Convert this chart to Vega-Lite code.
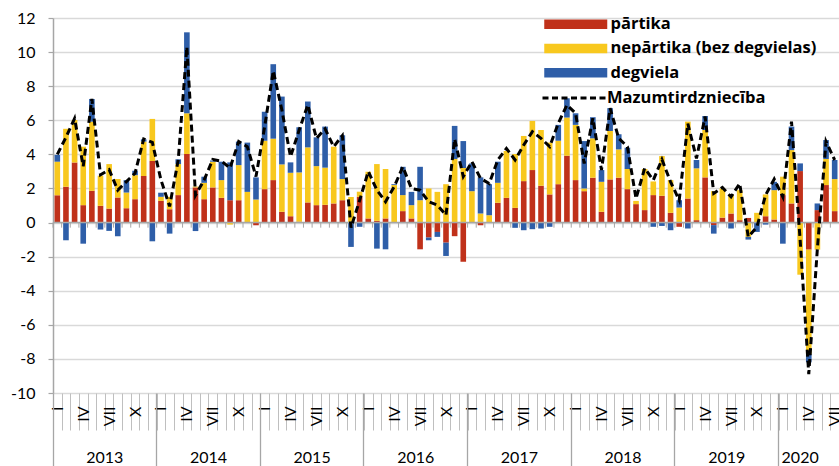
{
  "$schema": "https://vega.github.io/schema/vega-lite/v6.json",
  "width": 786,
  "height": 375,
  "autosize": "none",
  "padding": {"left": 53, "top": 18, "right": 0, "bottom": 73},
  "background": "white",
  "config": {
    "view": {"stroke": null}, "font": "Lato",
    "axisY": {
      "labelOverlap": false, "title": null, "values": [-10, -8, -6, -4, -2, 0, 2, 4, 6, 8, 10, 12],
      "grid": true, "gridColor": "#d9d9d9", "gridWidth": 1.5,
      "domainColor": "#a6a6a6", "domainWidth": 1.5, "tickColor": "#a6a6a6", "tickSize": 5, "tickWidth": 1.2,
      "labelPadding": 13, "labelFont": "Lato", "labelFontSize": 16, "labelColor": "#000000",
      "labelExpr": "'' + datum.value"
    }
  },
  "datasets": {
    "rows": [
      {"m":"2013-01","p":1.6,"n":1.97,"d":0.4,"t":4.0},
      {"m":"2013-02","p":2.1,"n":3.4,"d":-1.04,"t":5.0},
      {"m":"2013-03","p":3.53,"n":2.49,"d":0,"t":6.1},
      {"m":"2013-04","p":1.02,"n":3.43,"d":-1.24,"t":3.3},
      {"m":"2013-05","p":1.86,"n":4.06,"d":1.33,"t":7.25},
      {"m":"2013-06","p":0.98,"n":1.77,"d":-0.41,"t":2.8},
      {"m":"2013-07","p":0.82,"n":2.61,"d":-0.49,"t":3.1},
      {"m":"2013-08","p":1.47,"n":1.08,"d":-0.8,"t":1.9},
      {"m":"2013-09","p":0.84,"n":0.92,"d":0.73,"t":2.4},
      {"m":"2013-10","p":1.37,"n":1.41,"d":0.26,"t":2.9},
      {"m":"2013-11","p":2.73,"n":2.02,"d":0.13,"t":4.9},
      {"m":"2013-12","p":3.61,"n":2.47,"d":-1.1,"t":4.7},
      {"m":"2014-01","p":1.27,"n":0.24,"d":0.24,"t":2.5},
      {"m":"2014-02","p":0.78,"n":0.73,"d":-0.65,"t":0.95},
      {"m":"2014-03","p":1.61,"n":1.82,"d":0.28,"t":3.67},
      {"m":"2014-04","p":4.02,"n":2.39,"d":4.75,"t":10.3},
      {"m":"2014-05","p":2.06,"n":0.05,"d":-0.5,"t":1.6},
      {"m":"2014-06","p":1.37,"n":0.96,"d":0.36,"t":2.5},
      {"m":"2014-07","p":2.06,"n":1.51,"d":0.07,"t":3.7},
      {"m":"2014-08","p":1.45,"n":1.04,"d":1.08,"t":3.6},
      {"m":"2014-09","p":1.31,"n":-0.12,"d":2.22,"t":3.2},
      {"m":"2014-10","p":1.31,"n":2.06,"d":1.38,"t":4.75},
      {"m":"2014-11","p":0,"n":1.8,"d":2.89,"t":4.45},
      {"m":"2014-12","p":-0.16,"n":1.35,"d":1.3,"t":2.7},
      {"m":"2015-01","p":1.96,"n":2.84,"d":1.7,"t":5.6},
      {"m":"2015-02","p":2.49,"n":2.43,"d":4.37,"t":8.9},
      {"m":"2015-03","p":0.63,"n":2.78,"d":3.98,"t":6.6},
      {"m":"2015-04","p":0.37,"n":2.55,"d":0.61,"t":3.86},
      {"m":"2015-05","p":0.05,"n":2.89,"d":2.65,"t":5.43},
      {"m":"2015-06","p":1.18,"n":3.23,"d":2.69,"t":6.9},
      {"m":"2015-07","p":1.02,"n":2.29,"d":1.69,"t":4.94},
      {"m":"2015-08","p":1.04,"n":2.18,"d":2.41,"t":5.5},
      {"m":"2015-09","p":1.12,"n":3.33,"d":0,"t":4.45},
      {"m":"2015-10","p":1.31,"n":1.24,"d":2.57,"t":5.1},
      {"m":"2015-11","p":0,"n":1.5,"d":-1.43,"t":-0.3},
      {"m":"2015-12","p":1.51,"n":0.3,"d":-0.25,"t":1.3},
      {"m":"2016-01","p":0.24,"n":2.74,"d":0,"t":3.0},
      {"m":"2016-02","p":0.1,"n":3.33,"d":-1.53,"t":1.9},
      {"m":"2016-03","p":0.24,"n":2.9,"d":-1.57,"t":1.22},
      {"m":"2016-04","p":0,"n":2.2,"d":0.05,"t":2.1},
      {"m":"2016-05","p":0.67,"n":0.94,"d":1.66,"t":3.27},
      {"m":"2016-06","p":0.24,"n":0.78,"d":0.78,"t":2.0},
      {"m":"2016-07","p":-1.57,"n":1.31,"d":1.96,"t":1.9},
      {"m":"2016-08","p":-0.88,"n":2.0,"d":-0.16,"t":1.22},
      {"m":"2016-09","p":-0.55,"n":1.8,"d":-0.29,"t":1.02},
      {"m":"2016-10","p":-1.18,"n":2.25,"d":-0.78,"t":0.43},
      {"m":"2016-11","p":-0.8,"n":3.73,"d":1.94,"t":4.9},
      {"m":"2016-12","p":-2.3,"n":3.2,"d":1.58,"t":2.7},
      {"m":"2017-01","p":0,"n":1.84,"d":1.63,"t":3.57},
      {"m":"2017-02","p":-0.16,"n":0.53,"d":2.12,"t":2.59},
      {"m":"2017-03","p":0,"n":0.43,"d":1.82,"t":2.29},
      {"m":"2017-04","p":1.16,"n":1.17,"d":1.24,"t":3.67},
      {"m":"2017-05","p":1.45,"n":2.75,"d":0,"t":4.35},
      {"m":"2017-06","p":0.86,"n":3.16,"d":-0.31,"t":3.67},
      {"m":"2017-07","p":2.43,"n":2.65,"d":-0.45,"t":4.55},
      {"m":"2017-08","p":3.08,"n":2.88,"d":-0.39,"t":5.33},
      {"m":"2017-09","p":2.16,"n":3.27,"d":-0.35,"t":4.94},
      {"m":"2017-10","p":1.65,"n":3.04,"d":-0.25,"t":4.45},
      {"m":"2017-11","p":2.25,"n":2.55,"d":0.93,"t":5.82},
      {"m":"2017-12","p":3.92,"n":2.24,"d":1.13,"t":6.9},
      {"m":"2018-01","p":2.49,"n":3.24,"d":0.68,"t":6.41},
      {"m":"2018-02","p":1.84,"n":0.16,"d":2.78,"t":3.47},
      {"m":"2018-03","p":2.63,"n":2.31,"d":1.24,"t":6.12},
      {"m":"2018-04","p":0.63,"n":1.76,"d":0.69,"t":3.08},
      {"m":"2018-05","p":2.53,"n":2.84,"d":1.34,"t":6.71},
      {"m":"2018-06","p":2.63,"n":1.66,"d":0.89,"t":4.94},
      {"m":"2018-07","p":1.96,"n":1.18,"d":1.25,"t":4.45},
      {"m":"2018-08","p":1.08,"n":0.19,"d":0,"t":1.41},
      {"m":"2018-09","p":0.73,"n":2.41,"d":0,"t":3.18},
      {"m":"2018-10","p":1.61,"n":0.8,"d":-0.25,"t":2.49},
      {"m":"2018-11","p":1.57,"n":2.33,"d":-0.2,"t":3.7},
      {"m":"2018-12","p":0.57,"n":1.92,"d":-0.45,"t":2.39},
      {"m":"2019-01","p":-0.25,"n":0.88,"d":0.43,"t":1.31},
      {"m":"2019-02","p":1.41,"n":4.51,"d":-0.35,"t":5.8},
      {"m":"2019-03","p":0.14,"n":3.04,"d":0.49,"t":3.76},
      {"m":"2019-04","p":2.65,"n":2.78,"d":0.82,"t":6.22},
      {"m":"2019-05","p":-0.15,"n":1.84,"d":-0.5,"t":1.71},
      {"m":"2019-06","p":0.29,"n":1.71,"d":0,"t":2.06},
      {"m":"2019-07","p":0.53,"n":1.12,"d":-0.35,"t":1.51},
      {"m":"2019-08","p":0.14,"n":1.76,"d":0,"t":2.29},
      {"m":"2019-09","p":0.27,"n":-0.84,"d":-0.16,"t":-0.84},
      {"m":"2019-10","p":0,"n":0.57,"d":-0.55,"t":-0.25},
      {"m":"2019-11","p":0.37,"n":1.28,"d":-0.12,"t":1.61},
      {"m":"2019-12","p":0.18,"n":1.72,"d":0.49,"t":2.55},
      {"m":"2020-01","p":1.61,"n":1.08,"d":-1.24,"t":1.5},
      {"m":"2020-02","p":1.12,"n":3.13,"d":1.38,"t":5.92},
      {"m":"2020-03","p":3.02,"n":-3.06,"d":0.45,"t":-1.0},
      {"m":"2020-04","p":-1.59,"n":-6.12,"d":-0.49,"t":-8.9},
      {"m":"2020-05","p":0.73,"n":-1.59,"d":0.39,"t":-1.5},
      {"m":"2020-06","p":2.2,"n":1.53,"d":1.11,"t":4.75},
      {"m":"2020-07","p":0.67,"n":1.88,"d":1.12,"t":3.67}
    ]
  },
  "data": {"name": "rows"},
  "resolve": {"axis": {"x": "independent"}},
  "layer": [
    {
      "transform": [{"fold": ["p", "n", "d"], "as": ["s", "v"]}],
      "mark": {"type": "bar", "width": {"band": 0.65}},
      "encoding": {
        "x": {
          "field": "m", "type": "ordinal",
          "scale": {"paddingInner": 0, "paddingOuter": 0},
          "axis": {
            "orient": "bottom", "title": null, "tickBand": "extent", "tickSize": 37, "tickColor": "#bfbfbf", "tickWidth": 1,
            "domain": false, "grid": false, "labelAngle": -90, "labelAlign": "right", "labelBaseline": "middle",
            "labelPadding": -24, "labelFont": "Lato", "labelFontSize": 16, "labelColor": "#000000", "labelOverlap": false,
            "labelExpr": "substring(datum.value,5)=='01' ? 'I' : substring(datum.value,5)=='04' ? 'IV' : substring(datum.value,5)=='07' ? 'VII' : substring(datum.value,5)=='10' ? 'X' : ''"
          }
        },
        "y": {
          "field": "v", "type": "quantitative", "stack": "zero",
          "scale": {"domain": [-10, 12], "nice": false, "zero": false},
          "axis": {"labelOverlap": false}
        },
        "color": {
          "field": "s", "type": "nominal", "sort": ["p", "n", "d"],
          "scale": {"domain": ["p", "n", "d"], "range": ["#c0311a", "#f8c81e", "#2e5ea8"]},
          "legend": {
            "orient": "none", "legendX": 514.5, "legendY": -2, "title": null, "padding": 0,
            "symbolType": "M-6.3,-0.95H6.3V0.95H-6.3Z", "symbolSize": 100, "symbolStrokeWidth": 0, "symbolOpacity": 1,
            "labelFont": "Open Sans", "labelFontSize": 16.5, "labelFontWeight": "bold", "labelColor": "#000000",
            "labelOffset": 26.5, "labelLimit": 400, "rowPadding": 7.2,
            "labelExpr": "datum.value == 'p' ? 'pārtika' : datum.value == 'n' ? 'nepārtika (bez degvielas)' : 'degviela'"
          }
        }
      }
    },
    {
      "data": {"values": [{}]},
      "mark": {"type": "rule", "color": "#a6a6a6", "strokeWidth": 1.5},
      "encoding": {"y": {"datum": 0, "type": "quantitative", "axis": {"labelOverlap": false}}}
    },
    {
      "mark": {"type": "rule", "color": "#a6a6a6", "strokeWidth": 1},
      "encoding": {
        "x": {
          "field": "m", "type": "ordinal", "bandPosition": 0,
          "axis": {
            "orient": "bottom", "title": null, "values": ["2013-06","2014-06","2015-06","2016-06","2017-06","2018-06","2019-06","2020-03"],
            "ticks": false, "domain": false, "grid": false, "labelAngle": 0, "labelAlign": "center", "labelBaseline": "top",
            "labelPadding": 56, "labelFont": "Lato", "labelFontSize": 16, "labelColor": "#000000",
            "labelOffset": {"condition": {"test": "datum.value == '2020-03'", "value": 0}, "value": 4.3},
            "labelExpr": "substring(datum.value,0,4)"
          }
        },
        "y": {"datum": 0, "type": "quantitative", "axis": {"labelOverlap": false}},
        "y2": {"datum": -0.3}
      }
    },
    {
      "mark": {"type": "line", "strokeDash": [7, 4], "strokeWidth": 3, "strokeCap": "butt"},
      "encoding": {
        "x": {
          "field": "m", "type": "ordinal",
          "axis": {
            "orient": "bottom", "title": null, "values": ["2013-01","2014-01","2015-01","2016-01","2017-01","2018-01","2019-01","2020-01"],
            "bandPosition": 0, "tickSize": 73, "tickColor": "#a6a6a6", "tickWidth": 1.3,
            "labels": false, "domain": false, "grid": false
          }
        },
        "y": {"field": "t", "type": "quantitative", "axis": {"labelOverlap": false}},
        "stroke": {
          "datum": "Mazumtirdzniecība", "type": "nominal",
          "scale": {"range": ["#000000"]},
          "legend": {
            "orient": "none", "legendX": 488, "legendY": 47, "title": null, "padding": 0,
            "symbolType": "stroke", "symbolSize": 3969, "symbolStrokeWidth": 3, "symbolDash": [6, 3.5],
            "symbolStrokeColor": "#000000",
            "labelFont": "Open Sans", "labelFontSize": 16.5, "labelFontWeight": "bold", "labelColor": "#000000",
            "labelOffset": 0, "labelLimit": 400
          }
        }
      }
    }
  ]
}
